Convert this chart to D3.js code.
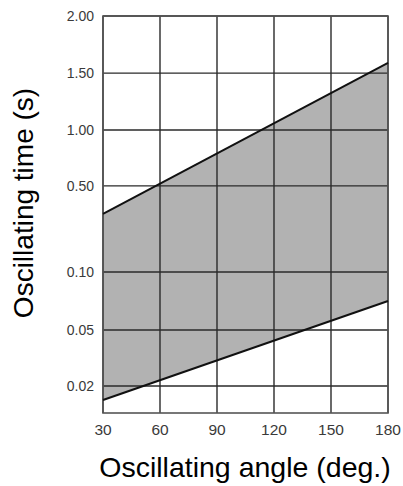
<!DOCTYPE html>
<html><head><meta charset="utf-8">
<script src="https://cdn.jsdelivr.net/npm/d3@7"></script>
<style>html,body{margin:0;padding:0;background:#fff}svg{display:block}</style>
</head><body>
<script>
// Data
const xTicks = [30, 60, 90, 120, 150, 180];
const yTicks = [0.02, 0.05, 0.10, 0.50, 1.00, 1.50, 2.00];
const yTickLabels = ["0.02", "0.05", "0.10", "0.50", "1.00", "1.50", "2.00"];
const angles = [30, 180];
const upperTime = [0.37, 1.59];
const lowerTime = [0.0148, 0.075];

const W = 403, H = 486;
const m = {left: 103, right: 15, top: 16, bottom: 73};
const pw = W - m.left - m.right, ph = H - m.top - m.bottom;

const svg = d3.select("body").append("svg").attr("width", W).attr("height", H);

const x = d3.scaleLinear().domain([30, 180]).range([m.left, m.left + pw]);
// non-uniform chart axis: piecewise linear placement of tick values
const yFrac = [0, 0.068, 0.209, 0.355, 0.572, 0.713, 0.856, 1];
const y = d3.scaleLinear()
  .domain([0.01].concat(yTicks))
  .range(yFrac.map(f => m.top + ph - f * ph));

const rows = angles.map((a, i) => ({a, lo: lowerTime[i], hi: upperTime[i]}));

// shaded band
svg.append("path").datum(rows)
  .attr("d", d3.area().x(d => x(d.a)).y0(d => y(d.lo)).y1(d => y(d.hi)))
  .attr("fill", "#b2b2b2");

// grid
const g = svg.append("g");
g.selectAll(".h").data(yTicks).join("line")
  .attr("x1", m.left).attr("x2", m.left + pw)
  .attr("y1", d => y(d)).attr("y2", d => y(d))
  .attr("stroke", "#2a2a2a").attr("stroke-width", 1.4);
g.selectAll(".v").data(xTicks).join("line")
  .attr("y1", m.top).attr("y2", m.top + ph)
  .attr("x1", d => x(d)).attr("x2", d => x(d))
  .attr("stroke", "#2a2a2a").attr("stroke-width", 1.4);

// frame
svg.append("rect").attr("x", m.left).attr("y", m.top).attr("width", pw).attr("height", ph)
  .attr("fill", "none").attr("stroke", "#555").attr("stroke-width", 1.6);

// boundary lines
[d => d.hi, d => d.lo].forEach(acc => {
  svg.append("path").datum(rows)
    .attr("d", d3.line().x(d => x(d.a)).y(d => y(acc(d))))
    .attr("fill", "none").attr("stroke", "#111").attr("stroke-width", 2);
});

// y tick labels
svg.selectAll(".yl").data(yTicks).join("text")
  .attr("x", m.left - 9).attr("y", d => y(d)).attr("dy", "0.35em")
  .attr("text-anchor", "end")
  .attr("font-family", "'Liberation Sans', Arial, sans-serif")
  .attr("font-size", 14)
  .attr("fill", "#3a3a3a")
  .text((d, i) => yTickLabels[i]);

// x tick labels
svg.selectAll(".xl").data(xTicks).join("text")
  .attr("x", d => x(d)).attr("y", m.top + ph + 22)
  .attr("text-anchor", "middle")
  .attr("font-family", "'Liberation Sans', Arial, sans-serif")
  .attr("font-size", 15.5).attr("fill", "#3a3a3a")
  .text(d => d);

// axis titles
svg.append("text").attr("x", 245).attr("y", 477).attr("text-anchor", "middle")
  .attr("font-family", "'Liberation Sans', Arial, sans-serif").attr("font-size", 28.5)
  .attr("fill", "#000").text("Oscillating angle (deg.)");
svg.append("text").attr("transform", "translate(33,203) rotate(-90)").attr("text-anchor", "middle")
  .attr("font-family", "'Liberation Sans', Arial, sans-serif").attr("font-size", 28)
  .attr("fill", "#000").text("Oscillating time (s)");
</script>
</body></html>
